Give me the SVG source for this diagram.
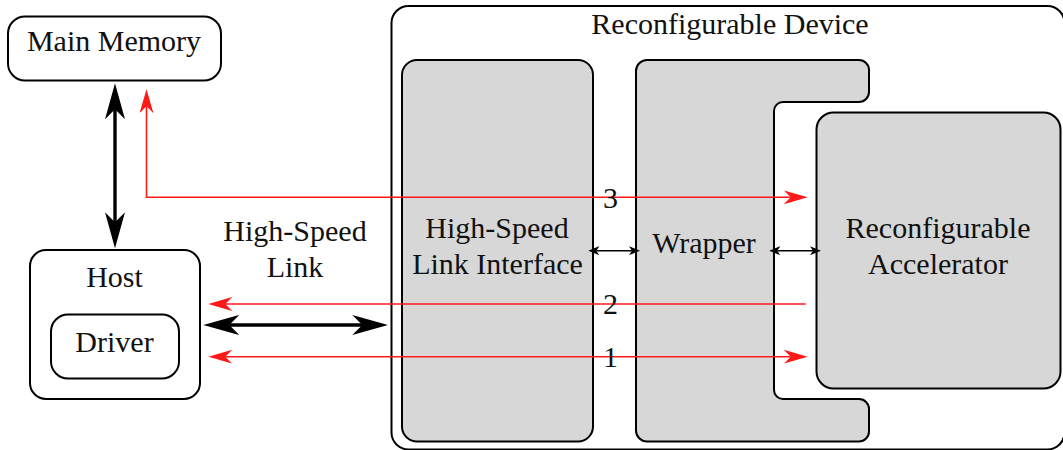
<svg xmlns="http://www.w3.org/2000/svg" width="1063" height="450" viewBox="0 0 1063 450">
  <style>
    .box { fill: #ffffff; stroke: #000000; stroke-width: 2; }
    .block { fill: #d7d7d7; stroke: #000000; stroke-width: 2; }
    .lbl { font-family: 'Liberation Serif', 'Times New Roman', Times, Tinos, 'Nimbus Roman', 'Nimbus Roman No9 L', FreeSerif, 'Noto Serif', 'DejaVu Serif', Georgia, serif; font-size: 30px; fill: #111111; text-anchor: middle; }
    .bus { fill: none; stroke: #000000; stroke-width: 3.4; }
    .port { fill: none; stroke: #000000; stroke-width: 1.4; }
    .path { fill: none; stroke: #ff1a1a; stroke-width: 1.6; }
  </style>
  <defs>
    <marker id="bigHead" markerUnits="userSpaceOnUse" viewBox="0 0 36 20" refX="10" refY="10" markerWidth="36" markerHeight="20" orient="auto-start-reverse">
      <path d="M36,10 L0,0 L10,10 L0,20 Z" fill="#000000"/>
    </marker>
    <marker id="redHead" markerUnits="userSpaceOnUse" viewBox="0 0 24 14" refX="7" refY="7" markerWidth="24" markerHeight="14" orient="auto-start-reverse">
      <path d="M24,7 L0,0 L7,7 L0,14 Z" fill="#ff1a1a"/>
    </marker>
    <marker id="smallHead" markerUnits="userSpaceOnUse" viewBox="0 0 11 9" refX="3" refY="4.5" markerWidth="11" markerHeight="9" orient="auto-start-reverse">
      <path d="M11,4.5 L0,0 L3,4.5 L0,9 Z" fill="#000000"/>
    </marker>
  </defs>

  <!-- host side -->
  <g id="main-memory">
    <rect class="box" x="8" y="16.5" width="213" height="64" rx="17"/>
    <text class="lbl" x="114" y="51">Main Memory</text>
  </g>
  <g id="host">
    <rect class="box" x="30" y="250" width="170" height="149" rx="16"/>
    <text class="lbl" x="114.5" y="287">Host</text>
  </g>
  <g id="driver">
    <rect class="box" x="51" y="314.5" width="128" height="64" rx="17"/>
    <text class="lbl" x="114.5" y="352">Driver</text>
  </g>
  <g id="link-label">
    <text class="lbl" x="295" y="241">High-Speed</text>
    <text class="lbl" x="295" y="277">Link</text>
  </g>

  <!-- FPGA side -->
  <g id="device">
    <rect class="box" x="391.5" y="6" width="673" height="443.5" rx="17"/>
    <text class="lbl" x="730" y="34">Reconfigurable Device</text>
  </g>
  <g id="link-interface">
    <rect class="block" x="402" y="60" width="191" height="381.5" rx="15"/>
    <text class="lbl" x="497" y="237.5">High-Speed</text>
    <text class="lbl" x="497.5" y="273.5">Link Interface</text>
  </g>
  <g id="wrapper">
    <path class="block" d="M647,60 H859 A10,10 0 0 1 869,70 V92 A10,10 0 0 1 859,102 H783 A9,9 0 0 0 774,111 V390 A9,9 0 0 0 783,399 H859 A10,10 0 0 1 869,409 V431.5 A10,10 0 0 1 859,441.5 H647 A11,11 0 0 1 636,430.5 V71 A11,11 0 0 1 647,60 Z"/>
    <text class="lbl" x="704" y="253">Wrapper</text>
  </g>
  <g id="accelerator">
    <rect class="block" x="816.5" y="112.5" width="244" height="276" rx="17"/>
    <text class="lbl" x="938" y="238">Reconfigurable</text>
    <text class="lbl" x="938" y="273.5">Accelerator</text>
  </g>

  <!-- connectors -->
  <g id="connectors">
    <line class="bus" x1="115" y1="109.3" x2="115" y2="222.3" marker-start="url(#bigHead)" marker-end="url(#bigHead)"/>
    <line class="bus" x1="229.3" y1="325" x2="362.3" y2="325" marker-start="url(#bigHead)" marker-end="url(#bigHead)"/>
    <line class="port" x1="596.3" y1="250.7" x2="632" y2="250.7" marker-start="url(#smallHead)" marker-end="url(#smallHead)"/>
    <line class="port" x1="777.3" y1="250.7" x2="813" y2="250.7" marker-start="url(#smallHead)" marker-end="url(#smallHead)"/>
    <polyline class="path" points="146.5,106.3 146.5,197.3 790.7,197.3" marker-start="url(#redHead)" marker-end="url(#redHead)"/>
    <line class="path" x1="805.7" y1="304" x2="225.3" y2="304" marker-end="url(#redHead)"/>
    <line class="path" x1="225.3" y1="356.7" x2="790.7" y2="356.7" marker-start="url(#redHead)" marker-end="url(#redHead)"/>
  </g>

  <!-- path numbers -->
  <g id="path-labels">
    <text class="lbl" x="610.5" y="208">3</text>
    <text class="lbl" x="610.5" y="314">2</text>
    <text class="lbl" x="610.5" y="367">1</text>
  </g>
</svg>
